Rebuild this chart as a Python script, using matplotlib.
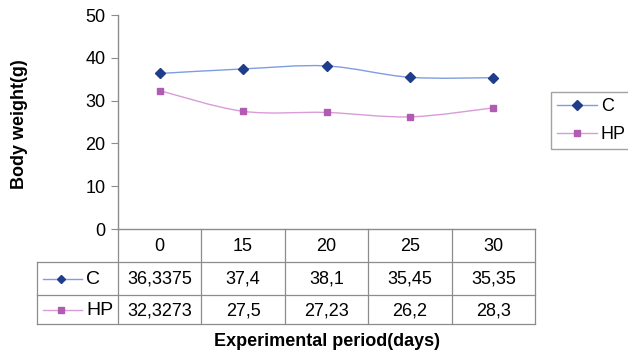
import numpy as np
import matplotlib
matplotlib.use("Agg")
import matplotlib.pyplot as plt
from matplotlib.path import Path
from matplotlib.patches import PathPatch
from matplotlib.lines import Line2D

plt.rcParams['font.family'] = ['Liberation Sans', 'DejaVu Sans']

days = ["0", "15", "20", "25", "30"]
series_names = ["C", "HP"]
c_values = [36.3375, 37.4, 38.1, 35.45, 35.35]
hp_values = [32.3273, 27.5, 27.23, 26.2, 28.3]
c_labels = ["36,3375", "37,4", "38,1", "35,45", "35,35"]
hp_labels = ["32,3273", "27,5", "27,23", "26,2", "28,3"]
yticks = [0, 10, 20, 30, 40, 50]

line_colors = ["#7f9de0", "#d99cd9"]
marker_colors = ["#1f3d8a", "#b05cb3"]
markers = ["D", "s"]
msizes = [5.0, 5.0]

FS = 13
W, H = 628, 356
fig = plt.figure(figsize=(W / 100, H / 100), dpi=100)
ax = fig.add_axes([118 / W, (H - 229) / H, (535 - 118) / W, (229 - 15) / H])
ax.set_xlim(-0.5, len(days) - 0.5)
ax.set_ylim(0, 50)
ax.set_yticks(yticks)
ax.set_yticklabels([str(t) for t in yticks], fontsize=FS)
ax.set_xticks([])
for s in ["top", "right"]:
    ax.spines[s].set_visible(False)
grey = "#8c8c8c"
ax.spines["left"].set_color(grey)
ax.spines["bottom"].set_color(grey)
ax.spines["left"].set_linewidth(1.0)
ax.spines["bottom"].set_linewidth(1.0)
ax.tick_params(axis="y", direction="out", length=5, color=grey, pad=4)
ax.patch.set_alpha(0)


def smooth_path(xs, ys):
    pts = np.column_stack([xs, ys]).astype(float)
    n = len(pts)
    verts = [pts[0]]
    codes = [Path.MOVETO]
    for i in range(n - 1):
        p0 = pts[i - 1] if i > 0 else pts[i]
        p1 = pts[i]
        p2 = pts[i + 1]
        p3 = pts[i + 2] if i + 2 < n else pts[i + 1]
        c1 = p1 + (p2 - p0) / 6.0
        c2 = p2 - (p3 - p1) / 6.0
        verts += [c1, c2, p2]
        codes += [Path.CURVE4] * 3
    return Path(np.array(verts), codes)


xs = np.arange(len(days))
handles = []
for vals, lc, mc, mk, ms, name in zip([c_values, hp_values], line_colors,
                                      marker_colors, markers, msizes, series_names):
    patch = PathPatch(smooth_path(xs, vals), facecolor="none", edgecolor=lc, lw=1.0)
    ax.add_patch(patch)
    ax.plot(xs, vals, linestyle="none", marker=mk, markersize=ms,
            markerfacecolor=mc, markeredgecolor=mc, zorder=3)
    handles.append(Line2D([], [], color=lc, lw=1.0, marker=mk, markersize=ms,
                          markerfacecolor=mc, markeredgecolor=mc, label=name))

leg = fig.legend(handles=handles, loc="upper left",
                 bbox_to_anchor=(551 / W, 1 - 92 / H), borderaxespad=0,
                 fontsize=FS, handlelength=2.2, handletextpad=0.2,
                 frameon=True, fancybox=False, edgecolor=grey,
                 borderpad=0.35, labelspacing=0.6)
leg.get_frame().set_linewidth(1.0)

# data table beneath the axes, aligned to category boundaries
ov = fig.add_axes([0, 0, 1, 1])
ov.set_xlim(0, W)
ov.set_ylim(H, 0)
ov.axis("off")
ov.patch.set_alpha(0)

to_px = lambda xd: ax.transData.transform((xd, 0))[0]
edges = [to_px(k - 0.5) for k in range(len(days) + 1)]
centers = [to_px(k) for k in range(len(days))]
row_y = [229, 262, 295, 324]
left = 37
lw = 0.9
for i, ex in enumerate(edges):
    ov.plot([ex, ex], [row_y[0], row_y[-1]], color=grey, lw=lw)
ov.plot([left, left], [row_y[1], row_y[-1]], color=grey, lw=lw)
for yy in row_y[1:]:
    ov.plot([left, edges[-1]], [yy, yy], color=grey, lw=lw)

mid = lambda a, b: (a + b) / 2
for cx, d in zip(centers, days):
    ov.text(cx, mid(row_y[0], row_y[1]) + 1, d, ha="center", va="center", fontsize=FS)
for r, labels in enumerate([c_labels, hp_labels]):
    yc = mid(row_y[r + 1], row_y[r + 2]) + 1
    for cx, t in zip(centers, labels):
        ov.text(cx, yc, t, ha="center", va="center", fontsize=FS)
    ov.plot([43, 82], [yc - 1, yc - 1], color=line_colors[r], lw=1.0)
    ov.plot([61], [yc - 1], marker=markers[r], markersize=msizes[r] - 0.5,
            color=marker_colors[r], linestyle="none")
    ov.text(86, yc, series_names[r], ha="left", va="center", fontsize=FS + 1)

fig.text(mid(edges[0], edges[-1]) / W, 1 - 342 / H, "Experimental period(days)",
         ha="center", va="center", fontsize=FS, fontweight="bold")
fig.text(20 / W, 1 - 124 / H, "Body weight(g)", rotation=90,
         ha="center", va="center", fontsize=FS, fontweight="bold")

fig.savefig("out.png", dpi=100)
